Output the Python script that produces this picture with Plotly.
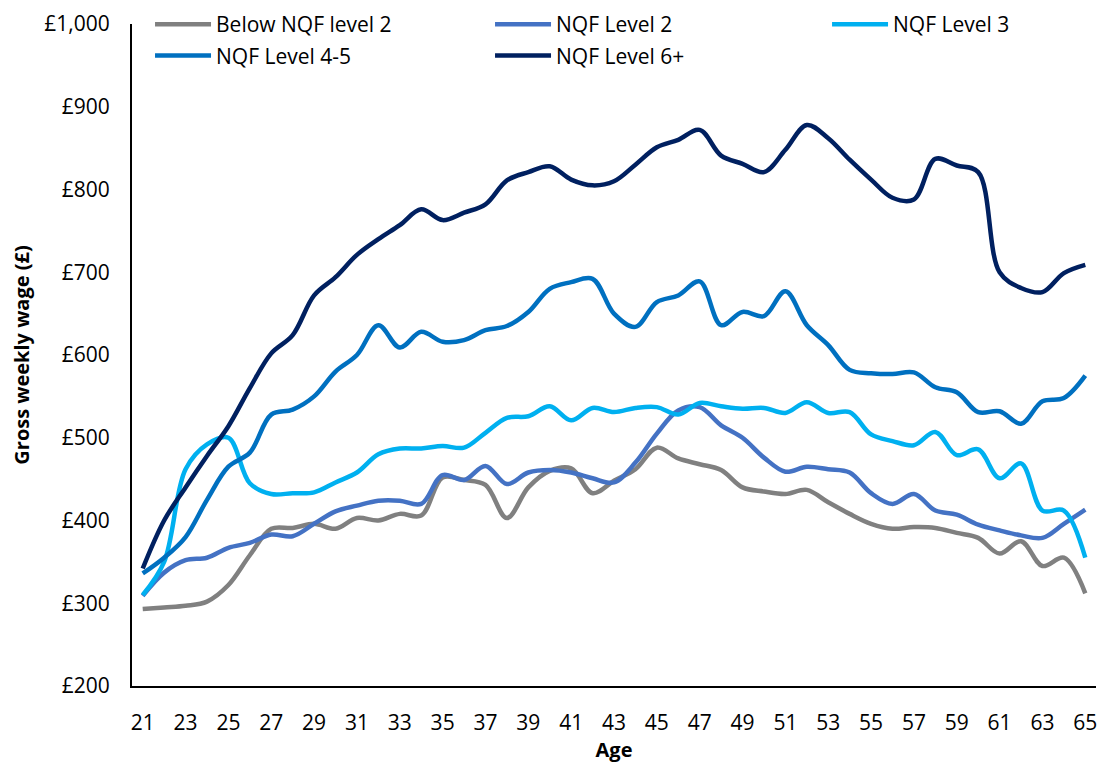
import plotly.graph_objects as go

ages = list(range(21, 66))

below_l2 = [293, 295, 297, 302, 322, 358, 390, 391, 396, 390, 403, 400, 408, 406, 452,
            449, 443, 403, 440, 460, 463, 433, 448, 462, 488, 475, 468, 461, 440, 435,
            432, 437, 422, 408, 396, 390, 392, 391, 385, 379, 360, 375, 345, 355, 312]
nqf_l2 = [309, 337, 352, 355, 367, 373, 383, 381, 396, 411, 418, 424, 424, 420, 455,
          449, 466, 444, 458, 461, 458, 451, 446, 470, 505, 533, 537, 515, 500, 476,
          459, 465, 462, 458, 433, 420, 432, 412, 407, 395, 388, 382, 379, 396, 413]
nqf_l3 = [310, 350, 462, 492, 500, 445, 432, 433, 434, 446, 458, 480, 487, 487, 490,
          488, 506, 524, 526, 538, 521, 536, 531, 536, 537, 528, 542, 538, 535, 536,
          530, 543, 530, 531, 504, 496, 491, 507, 479, 486, 451, 469, 412, 412, 355]
nqf_l45 = [336, 355, 380, 425, 465, 482, 528, 534, 550, 580, 600, 636, 609, 628, 616,
           618, 630, 635, 652, 680, 688, 692, 650, 634, 664, 672, 689, 636, 652, 647,
           677, 636, 612, 582, 578, 577, 579, 561, 555, 531, 532, 517, 544, 548, 575]
nqf_l6 = [342, 400, 440, 478, 514, 560, 602, 624, 672, 694, 721, 740, 757, 776, 763,
          772, 782, 811, 821, 828, 812, 805, 810, 830, 851, 860, 872, 841, 831, 821,
          848, 878, 862, 836, 812, 790, 788, 837, 829, 821, 700, 681, 676, 699, 709]

series = [
    ("Below NQF level 2", below_l2, "#808080", "legend"),
    ("NQF Level 2", nqf_l2, "#4472C4", "legend2"),
    ("NQF Level 3", nqf_l3, "#00B0F0", "legend3"),
    ("NQF Level 4-5", nqf_l45, "#0070C0", "legend"),
    ("NQF Level 6+", nqf_l6, "#002060", "legend2"),
]

FONT = "Open Sans"

fig = go.Figure()
for name, vals, color, lg in series:
    fig.add_trace(go.Scatter(
        x=ages, y=vals, name=name, mode="lines",
        line=dict(color=color, width=4.5, shape="spline", smoothing=1.0),
        legend=lg, legendgroup=name,
    ))

leg_common = dict(
    orientation="v", yanchor="top", xanchor="left", y=1.03,
    bgcolor="rgba(0,0,0,0)", borderwidth=0, itemwidth=56,
    tracegroupgap=1, font=dict(family=FONT, size=21, color="#000000"),
)

fig.update_layout(
    width=1098, height=757,
    margin=dict(l=124, r=10, t=16, b=79, autoexpand=False),
    paper_bgcolor="white", plot_bgcolor="white",
    font=dict(family=FONT, size=21, color="#000000"),
    showlegend=True,
    legend=dict(x=0.0187, **leg_common),
    legend2=dict(x=0.3714, **leg_common),
    legend3=dict(x=0.721, **leg_common),
    xaxis=dict(
        range=[20.5, 65.5], tickmode="array",
        tickvals=list(range(21, 66, 2)), ticktext=[str(a) for a in range(21, 66, 2)],
        showgrid=False, zeroline=False, showline=True, linecolor="#000000", linewidth=2,
        ticks="", ticklabelstandoff=17, tickfont=dict(family=FONT, size=21),
        ticklabeloverflow="allow",
        title=dict(text="<b>Age</b>", font=dict(family=FONT, size=20), standoff=8),
        fixedrange=True,
    ),
    yaxis=dict(
        range=[200, 1000], dtick=100, tick0=200, tickprefix="£", tickformat=",d",
        showgrid=False, zeroline=False, showline=True, linecolor="#000000", linewidth=2,
        ticks="", ticklabelstandoff=16, tickfont=dict(family=FONT, size=21),
        ticklabeloverflow="allow",
        title=dict(text="<b>Gross weekly wage (£)</b>", font=dict(family=FONT, size=20), standoff=28),
        fixedrange=True,
    ),
)

fig.write_html("out.html")
